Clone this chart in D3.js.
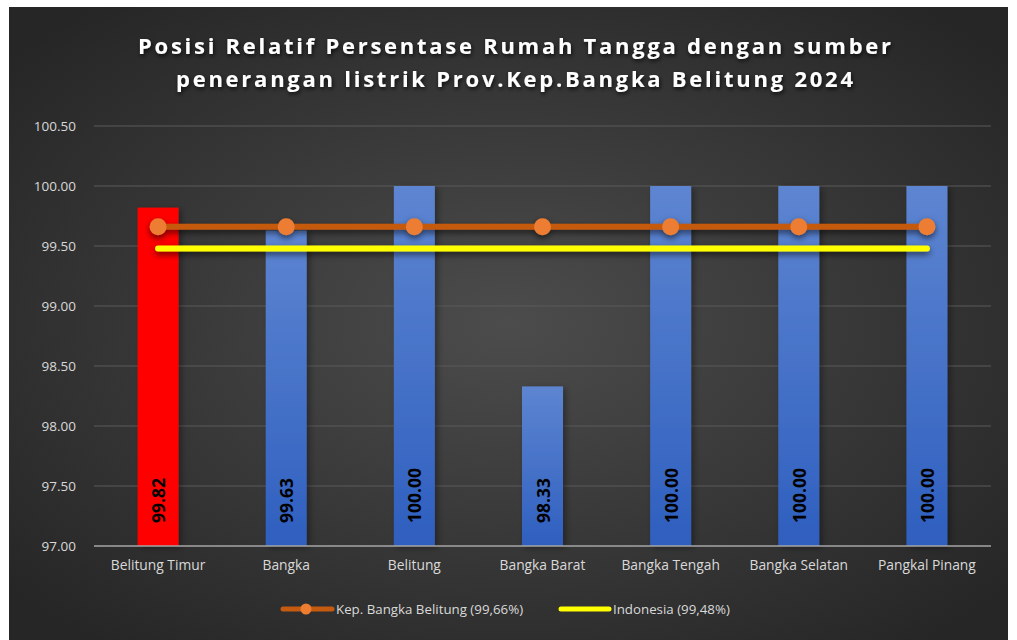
<!DOCTYPE html>
<html><head><meta charset="utf-8">
<script src="https://cdn.jsdelivr.net/npm/d3@7/dist/d3.min.js"></script>
<style>html,body{margin:0;padding:0;background:#fff;}svg{display:block;}</style>
</head><body>
<script>
const categories = ["Belitung Timur","Bangka","Belitung","Bangka Barat","Bangka Tengah","Bangka Selatan","Pangkal Pinang"];
const values = [99.82, 99.63, 100.00, 98.33, 100.00, 100.00, 100.00];
const provValue = 99.66;
const indoValue = 99.48;
const yTicks = [97.0, 97.5, 98.0, 98.5, 99.0, 99.5, 100.0, 100.5];
const titleLines = ["Posisi Relatif Persentase Rumah Tangga dengan sumber","penerangan listrik Prov.Kep.Bangka Belitung 2024"];
const legendLabels = ["Kep. Bangka Belitung (99,66%)","Indonesia (99,48%)"];

const W = 1017, H = 640;
const FONT = "'Open Sans', sans-serif";
const svg = d3.select("body").append("svg").attr("width", W).attr("height", H);
const defs = svg.append("defs");
const bg = defs.append("radialGradient").attr("id","bg").attr("cx","50%").attr("cy","50%").attr("r","65%");
bg.append("stop").attr("offset","0%").attr("stop-color","#4c4c4c");
bg.append("stop").attr("offset","100%").attr("stop-color","#262626");
const bl = defs.append("linearGradient").attr("id","blue").attr("x1",0).attr("y1",0).attr("x2",0).attr("y2",1);
bl.append("stop").attr("offset","0%").attr("stop-color","#5d85d1");
bl.append("stop").attr("offset","100%").attr("stop-color","#2f5fbf");
const sh = defs.append("filter").attr("id","shadow").attr("filterUnits","userSpaceOnUse")
  .attr("x",0).attr("y",0).attr("width",W).attr("height",H);
sh.append("feDropShadow").attr("dx",0).attr("dy",3).attr("stdDeviation",3).attr("flood-color","#000").attr("flood-opacity",0.6);
const bsh = defs.append("filter").attr("id","bshadow").attr("filterUnits","userSpaceOnUse")
  .attr("x",0).attr("y",0).attr("width",W).attr("height",H);
bsh.append("feDropShadow").attr("dx",3).attr("dy",2).attr("stdDeviation",3).attr("flood-color","#000").attr("flood-opacity",0.35);
const tsh = defs.append("filter").attr("id","tshadow").attr("filterUnits","userSpaceOnUse")
  .attr("x",0).attr("y",0).attr("width",W).attr("height",H);
tsh.append("feDropShadow").attr("dx",1).attr("dy",2).attr("stdDeviation",2).attr("flood-color","#000").attr("flood-opacity",0.8);

svg.append("rect").attr("x",9).attr("y",7).attr("width",999).attr("height",H-7).attr("fill","url(#bg)");

const x = d3.scaleBand().domain(categories).range([94, 991]).paddingInner(0.68).paddingOuter(0.34);
const y = d3.scaleLinear().domain([97, 100.5]).range([546, 126]);

// gridlines
svg.append("g").selectAll("line").data(yTicks.filter(d=>d>97)).join("line")
  .attr("x1",94).attr("x2",991).attr("y1",d=>y(d)).attr("y2",d=>y(d))
  .attr("stroke","#5a5a5a").attr("stroke-width",1.2);

// y axis labels
const yAxis = d3.axisLeft(y).tickValues(yTicks).tickFormat(d3.format(".2f")).tickSize(0).tickPadding(0);
const ya = svg.append("g").attr("transform","translate(76,0)").call(yAxis);
ya.select(".domain").remove();
ya.selectAll("text").attr("fill","#d9d9d9").style("font-family",FONT).style("font-size","13.5px");

// bars
const bars = svg.append("g").attr("filter","url(#bshadow)");
bars.selectAll("rect").data(values).join("rect")
  .attr("x",(d,i)=>x(categories[i])).attr("width",x.bandwidth())
  .attr("y",d=>y(d)).attr("height",d=>546-y(d))
  .attr("fill",(d,i)=>i===0?"#ff0000":"url(#blue)");

// x axis line
svg.append("line").attr("x1",94).attr("x2",991).attr("y1",546).attr("y2",546).attr("stroke","#a6a6a6").attr("stroke-width",1.5);

// x axis labels
const xAxis = d3.axisBottom(x).tickSize(0).tickPadding(0);
const xa = svg.append("g").attr("transform","translate(0,560)").call(xAxis);
xa.select(".domain").remove();
xa.selectAll("text").attr("fill","#d9d9d9").attr("dy","0.75em").style("font-family",FONT).style("font-size","13.8px");

// bar value labels
svg.append("g").selectAll("text").data(values).join("text")
  .attr("transform",(d,i)=>`translate(${x(categories[i])+x.bandwidth()/2+7},523) rotate(-90)`)
  .attr("text-anchor","start").attr("fill","#000").style("font-family",FONT)
  .style("font-size","17.5px").style("font-weight","bold").text(d=>d3.format(".2f")(d));

// Indonesia line
const cx = categories.map(c=>x(c)+x.bandwidth()/2);
svg.append("line").attr("x1",cx[0]).attr("x2",cx[cx.length-1]).attr("y1",y(indoValue)).attr("y2",y(indoValue))
  .attr("stroke","#ffff00").attr("stroke-width",6).attr("stroke-linecap","round").attr("filter","url(#shadow)");

// Province line
const pg = svg.append("g").attr("filter","url(#shadow)");
pg.append("path").datum(categories).attr("d",d3.line().x(c=>x(c)+x.bandwidth()/2).y(()=>y(provValue)))
  .attr("stroke","#c55a11").attr("stroke-width",6).attr("fill","none");
pg.selectAll("circle").data(categories).join("circle")
  .attr("cx",c=>x(c)+x.bandwidth()/2).attr("cy",y(provValue)).attr("r",8.5).attr("fill","#ed7d31");

// title
const titleWidths = [753, 677];
svg.append("g").attr("filter","url(#tshadow)").selectAll("text").data(titleLines).join("text")
  .attr("x",W/2+6).attr("y",(d,i)=>54+i*33).attr("text-anchor","middle")
  .attr("textLength",(d,i)=>titleWidths[i]).attr("lengthAdjust","spacing")
  .attr("fill","#fff").style("font-family",FONT).style("font-size","22px").style("font-weight","bold")
  .text(d=>d);

// legend
const lg = svg.append("g");
lg.append("line").attr("x1",283).attr("x2",332).attr("y1",609).attr("y2",609).attr("stroke","#c55a11").attr("stroke-width",5).attr("stroke-linecap","round");
lg.append("circle").attr("cx",306).attr("cy",609).attr("r",5.5).attr("fill","#ed7d31");
lg.append("text").attr("x",336).attr("y",614).attr("fill","#d9d9d9").style("font-family",FONT).style("font-size","13.3px").text(legendLabels[0]);
lg.append("line").attr("x1",561).attr("x2",609).attr("y1",609).attr("y2",609).attr("stroke","#ffff00").attr("stroke-width",5).attr("stroke-linecap","round");
lg.append("text").attr("x",613).attr("y",614).attr("fill","#d9d9d9").style("font-family",FONT).style("font-size","13.3px").text(legendLabels[1]);
</script>
</body></html>
